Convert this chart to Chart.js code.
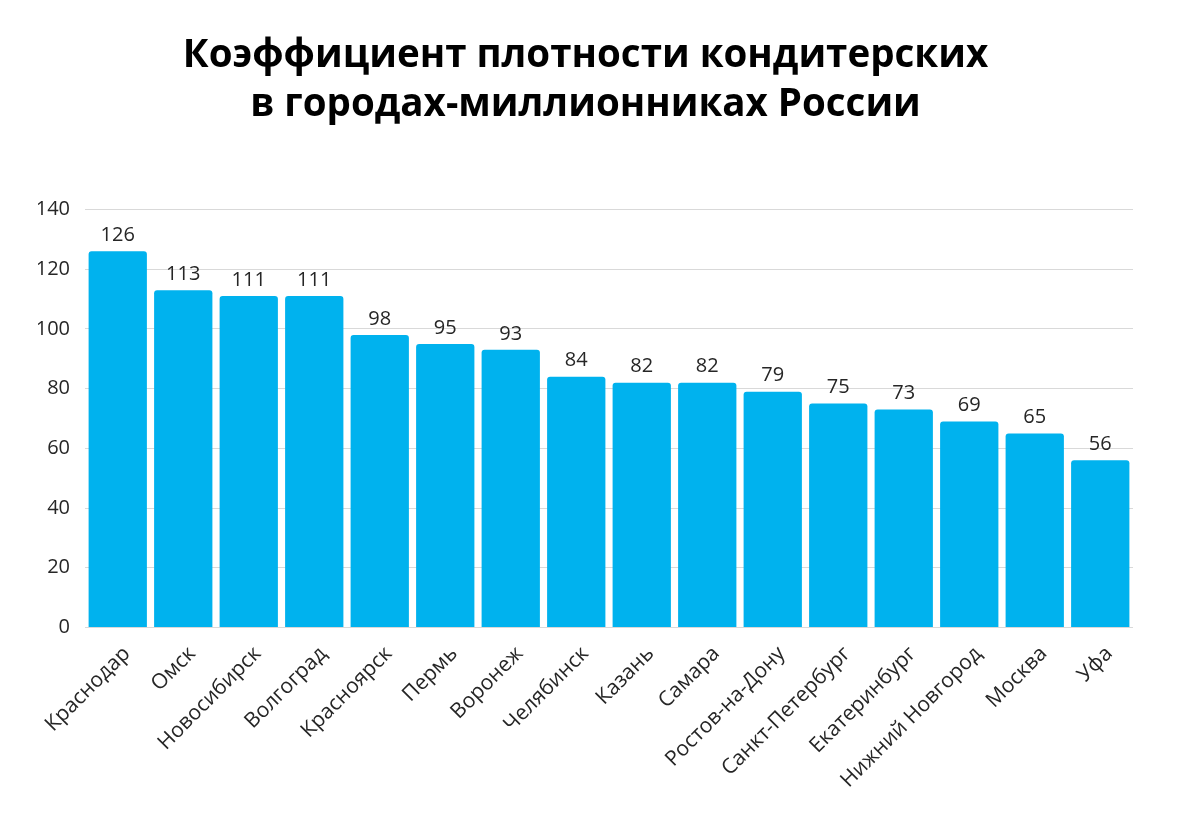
<!DOCTYPE html>
<html>
<head>
<meta charset="utf-8">
<script src="https://cdn.jsdelivr.net/npm/chart.js@4"></script>
<style>
  html, body { margin: 0; padding: 0; background: #fff; }
</style>
</head>
<body>
<canvas id="chart" width="1180" height="821"></canvas>
<script>
const cities = ['Краснодар', 'Омск', 'Новосибирск', 'Волгоград', 'Красноярск', 'Пермь', 'Воронеж', 'Челябинск',
    'Казань', 'Самара', 'Ростов-на-Дону', 'Санкт-Петербург', 'Екатеринбург', 'Нижний Новгород', 'Москва', 'Уфа'];
const density = [126, 113, 111, 111, 98, 95, 93, 84, 82, 82, 79, 75, 73, 69, 65, 56];
const titleLines = ['Коэффициент плотности кондитерских', 'в городах-миллионниках России'];

// simple value labels over the bars
const valueLabels = {
    id: 'valueLabels',
    afterDatasetsDraw(chart) {
        const ctx = chart.ctx;
        ctx.save();
        ctx.font = '20px "Open Sans"';
        ctx.fillStyle = '#262626';
        ctx.textAlign = 'center';
        ctx.textBaseline = 'bottom';
        chart.getDatasetMeta(0).data.forEach((bar, i) => {
            ctx.fillText(density[i], bar.x, bar.y - 6);
        });
        ctx.restore();
    }
};

const ctx = document.getElementById('chart').getContext('2d');
new Chart(ctx, {
    type: 'bar',
    data: {
        labels: cities,
        datasets: [{
            data: density,
            backgroundColor: '#00B2EE',
            borderRadius: 3,
            barPercentage: 0.89,
            categoryPercentage: 1
        }]
    },
    options: {
        responsive: false,
        animation: false,
        layout: { padding: { left: 38, right: 47, top: 0, bottom: 22 } },
        plugins: {
            legend: { display: false },
            tooltip: { enabled: false },
            title: {
                display: true,
                text: titleLines,
                color: '#000',
                font: { family: '"Open Sans"', size: 38.5, weight: 'bold', lineHeight: 1.28 },
                padding: { top: 31, bottom: 80 }
            }
        },
        scales: {
            x: {
                grid: { display: false },
                border: { display: false },
                ticks: {
                    color: '#262626',
                    padding: 6,
                    labelOffset: 9,
                    font: { family: '"Open Sans"', size: 21 },
                    minRotation: 45,
                    maxRotation: 45,
                    autoSkip: false
                }
            },
            y: {
                min: 0,
                max: 140,
                afterFit(scale) { scale.width = 47; },
                border: { display: false },
                grid: { color: '#d9d9d9', drawTicks: false },
                ticks: {
                    stepSize: 20,
                    padding: 15,
                    color: '#262626',
                    font: { family: '"Open Sans"', size: 20 }
                }
            }
        }
    },
    plugins: [valueLabels]
});
</script>
</body>
</html>
